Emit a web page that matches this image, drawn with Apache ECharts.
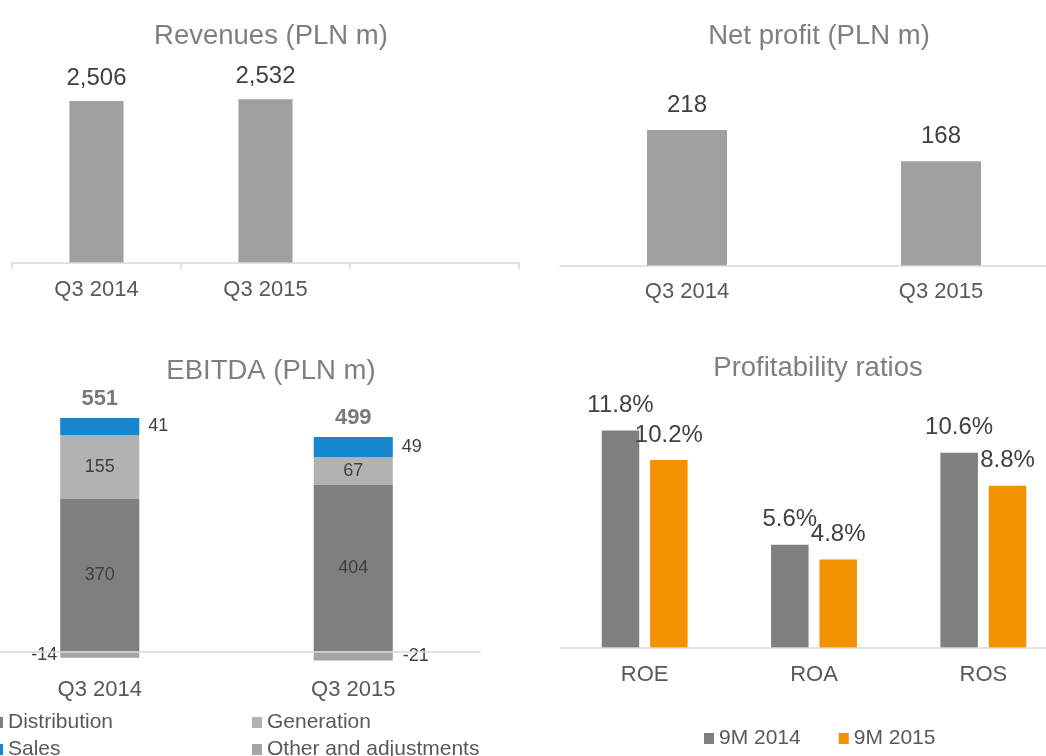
<!DOCTYPE html>
<html>
<head>
<meta charset="utf-8">
<script src="https://cdn.jsdelivr.net/npm/echarts@6/dist/echarts.min.js"></script>
<style>
html,body{margin:0;padding:0;background:#fff;}
#c{width:1046px;height:756px;}
</style>
</head>
<body>
<div id="c"></div>
<script>
// ---- data ----
const revenueCategories = ['Q3 2014', 'Q3 2015', ''];
const revenueValues = [2506, 2532];

const netCategories = ['Q3 2014', 'Q3 2015'];
const netValues = [218, 168];

const ebitdaCategories = ['Q3 2014', 'Q3 2015'];
const distribution = [370, 404];
const generation = [155, 67];
const sales = [41, 49];
const otherAdj = [-14, -21];
const ebitdaTotals = [551, 499];

const ratioCategories = ['ROE', 'ROA', 'ROS'];
const ratios9M2014 = [11.8, 5.6, 10.6];
const ratios9M2015 = [10.2, 4.8, 8.8];

// ---- chart ----
const FONT = "'Liberation Sans', Arial, sans-serif";
const TITLE_COLOR = '#7f7f7f';
const LABEL_COLOR = '#404040';
const AXIS_LABEL_COLOR = '#595959';
const AXIS_LINE = '#d9d9d9';

const positiveTop = distribution.map((d, i) => d + generation[i] + sales[i]);

const chart = echarts.init(document.getElementById('c'), null, {renderer: 'canvas'});

function catAxis(gridIndex, data, margin, extra) {
  return Object.assign({
    type: 'category', gridIndex: gridIndex, data: data, z: 3,
    axisLine: {show: true, lineStyle: {color: AXIS_LINE, width: 1.5}},
    axisTick: {show: false},
    axisLabel: {color: AXIS_LABEL_COLOR, fontSize: 22, fontFamily: FONT, margin: margin}
  }, extra || {});
}
function valAxis(gridIndex, min, max) {
  return {type: 'value', gridIndex: gridIndex, min: min, max: max, show: false, splitLine: {show: false}};
}
function legendItem(name, left, top) {
  return {data: [name], left: left, top: top, itemWidth: 10, itemHeight: 11, icon: 'rect',
          padding: 0, itemStyle: {borderWidth: 0},
          textStyle: {color: AXIS_LABEL_COLOR, fontSize: 21, fontFamily: FONT}};
}
function title(text, x, y) {
  return {text: text, left: x, top: y, textAlign: 'center',
          textStyle: {color: TITLE_COLOR, fontSize: 27.5, fontWeight: 'normal', fontFamily: FONT}};
}

const gridBase = {outerBoundsMode: 'none', containLabel: false};

const option = {
  backgroundColor: '#ffffff',
  animation: false,
  textStyle: {fontFamily: FONT},
  title: [
    title('Revenues (PLN m)', 266, 17),
    title('Net profit (PLN m)', 814, 17),
    title('EBITDA (PLN m)', 266, 352),
    title('Profitability ratios', 813, 349)
  ],
  legend: [
    legendItem('Distribution', -7, 712),
    legendItem('Sales', -7, 739),
    legendItem('Generation', 252, 712),
    legendItem('Other and adjustments', 252, 739),
    Object.assign(legendItem('9M 2014', 704, 728), {data: ['9M 2014', '9M 2015'], itemGap: 38})
  ],
  grid: [
    Object.assign({left: 12, top: 69, width: 507, height: 194}, gridBase),
    Object.assign({left: 560, top: 110, width: 508, height: 156}, gridBase),
    Object.assign({left: -27, top: 404, width: 507, height: 268.5}, gridBase),
    Object.assign({left: 560, top: 390, width: 508, height: 258}, gridBase)
  ],
  xAxis: [
    catAxis(0, revenueCategories, 16, {axisTick: {show: true, length: 6, lineStyle: {color: AXIS_LINE, width: 1.5}}}),
    catAxis(1, netCategories, 15),
    catAxis(2, ebitdaCategories, 6),
    catAxis(3, ratioCategories, 16)
  ],
  yAxis: [
    valAxis(0, 0, 3000),
    valAxis(1, 0, 250),
    valAxis(2, -50, 600),
    valAxis(3, 0, 14)
  ],
  series: [
    {name: 'Revenues', type: 'bar', xAxisIndex: 0, yAxisIndex: 0, data: revenueValues,
     barWidth: '32%', itemStyle: {color: '#a0a0a0'},
     label: {show: true, position: 'top', distance: 11, color: LABEL_COLOR, fontSize: 24, fontFamily: FONT,
             formatter: p => p.value.toLocaleString('en-US')}},
    {name: 'Net profit', type: 'bar', xAxisIndex: 1, yAxisIndex: 1, data: netValues,
     barWidth: '31.5%', itemStyle: {color: '#a0a0a0'},
     label: {show: true, position: 'top', distance: 13, color: LABEL_COLOR, fontSize: 24, fontFamily: FONT}},

    {name: 'Distribution', type: 'bar', stack: 'ebitda', xAxisIndex: 2, yAxisIndex: 2, data: distribution,
     barWidth: '31.2%', itemStyle: {color: '#7f7f7f'},
     label: {show: true, position: 'inside', color: LABEL_COLOR, fontSize: 18, fontFamily: FONT}},
    {name: 'Generation', type: 'bar', stack: 'ebitda', xAxisIndex: 2, yAxisIndex: 2, data: generation,
     barWidth: '31.2%', itemStyle: {color: '#b2b2b2'},
     label: {show: true, position: 'inside', color: LABEL_COLOR, fontSize: 18, fontFamily: FONT}},
    {name: 'Sales', type: 'bar', stack: 'ebitda', xAxisIndex: 2, yAxisIndex: 2, data: sales,
     barWidth: '31.2%', itemStyle: {color: '#1587cf'},
     label: {show: true, position: 'right', distance: 9, color: LABEL_COLOR, fontSize: 18, fontFamily: FONT}},
    {name: 'Other and adjustments', type: 'bar', stack: 'ebitda', xAxisIndex: 2, yAxisIndex: 2,
     data: otherAdj.map((v, i) => ({value: v, label: {position: i === 0 ? 'left' : 'right', distance: i === 0 ? 3 : 10}})),
     barWidth: '31.2%', itemStyle: {color: '#a5a5a5'},
     label: {show: true, color: LABEL_COLOR, fontSize: 18, fontFamily: FONT}},
    {name: 'EBITDA total', type: 'scatter', xAxisIndex: 2, yAxisIndex: 2, data: positiveTop,
     symbolSize: 0, silent: true, z: 5,
     label: {show: true, position: 'top', distance: 8, color: '#595959', fontSize: 22, fontWeight: 'bold', fontFamily: FONT,
             formatter: p => String(ebitdaTotals[p.dataIndex])}},

    {name: '9M 2014', type: 'bar', xAxisIndex: 3, yAxisIndex: 3, data: ratios9M2014,
     barWidth: 37.5, barGap: '29%', itemStyle: {color: '#7f7f7f'},
     label: {show: true, position: 'top', distance: 13, color: LABEL_COLOR, fontSize: 24, fontFamily: FONT,
             formatter: p => p.value.toFixed(1) + '%'}},
    {name: '9M 2015', type: 'bar', xAxisIndex: 3, yAxisIndex: 3, data: ratios9M2015,
     barWidth: 37.5, barGap: '29%', itemStyle: {color: '#f39200'},
     label: {show: true, position: 'top', distance: 13, color: LABEL_COLOR, fontSize: 24, fontFamily: FONT,
             formatter: p => p.value.toFixed(1) + '%'}}
  ]
};
chart.setOption(option);
</script>
</body>
</html>
